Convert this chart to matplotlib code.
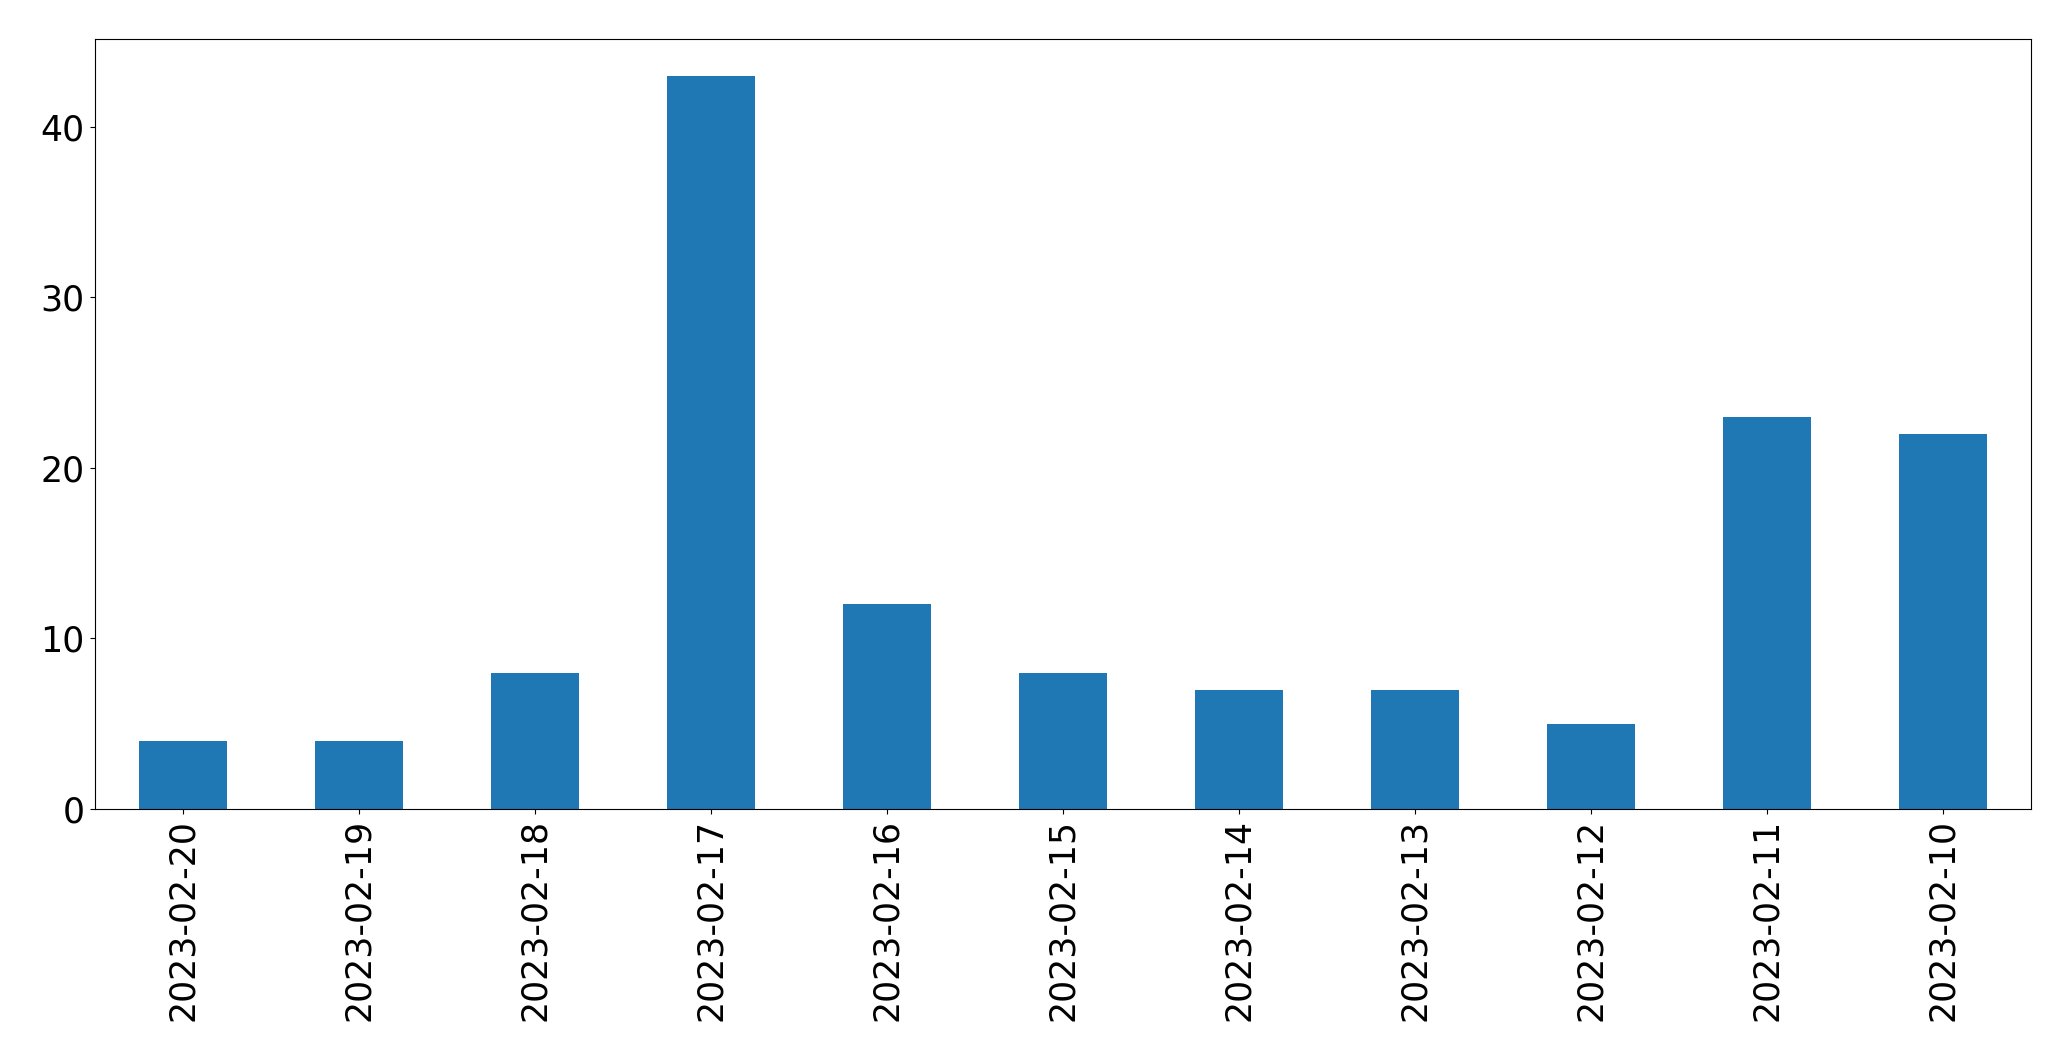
import matplotlib
matplotlib.use("Agg")
import matplotlib.pyplot as plt
import pandas as pd

dates = ["2023-02-20", "2023-02-19", "2023-02-18", "2023-02-17", "2023-02-16",
         "2023-02-15", "2023-02-14", "2023-02-13", "2023-02-12", "2023-02-11",
         "2023-02-10"]
counts = [4, 4, 8, 43, 12, 8, 7, 7, 5, 23, 22]

series = pd.Series(counts, index=dates)

fig = plt.figure(figsize=(20.71, 10.61), dpi=100)
ax = fig.add_axes([94.5 / 2071, 252 / 1061, (2031 - 94.5) / 2071, (809 - 39) / 1061])
series.plot(kind="bar", ax=ax, color="#1f77b4")
ax.tick_params(axis="both", labelsize=25)

fig.savefig("out.png", dpi=100)
